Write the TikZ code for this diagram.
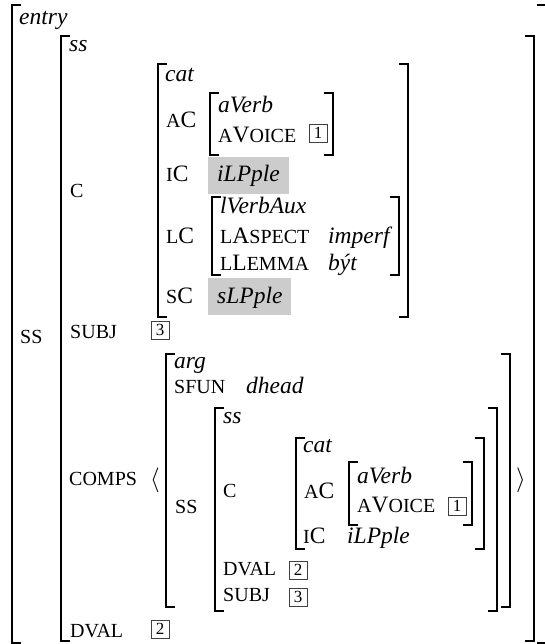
\documentclass[tikz,border=0pt]{standalone}
\usepackage{amsmath, amssymb}
\usepackage{xcolor}
\usepackage{fontspec}
\setmainfont{Liberation Serif}
\usepackage{tikz}
\usetikzlibrary{arrows.meta, positioning}
\definecolor{grisclaro}{RGB}{204, 204, 204}
\newcommand\avmfont{\fontsize{23.5}{27}\selectfont}
% small caps by hand, the serif has none of its own
\newcommand\fsc[1]{{\fontsize{20}{23}\selectfont\MakeUppercase{#1}}}

\begin{document}
\begin{tikzpicture}[x=1pt, y=-1pt,
    feat/.style={inner sep=0pt, anchor=base west, font=\avmfont},
    val/.style={inner sep=0pt, anchor=base west, font=\avmfont\itshape},
    shade/.style={val, fill=grisclaro, inner xsep=9pt, text height=25pt, text depth=12pt},
    tagbox/.style={draw=black!75, line width=0.9pt, minimum size=18pt, inner sep=0pt,
                   font=\fontsize{17}{19}\selectfont},
    brk/.style={line width=1.8pt, line cap=rect}
]
\useasboundingbox (0,0) rectangle (545,644);

% entry
\draw [brk] (20,5) -| (12,643) -- (20,643);
\draw [brk] (538,5) -| (546,643) -- (538,643);
\node (entry) [val] at (19,25) {entry};
\node (ssl) [feat] at (20,343) {\fsc{ss}};

% ss
\draw [brk] (69,36) -| (61,641) -- (69,641);
\draw [brk] (526,36) -| (534,641) -- (526,641);
\node (ss) [val] at (69,52) {ss};
\node (cl) [feat] at (70,197) {\fsc{c}};
\node (subjl) [feat] at (70,338) {\fsc{subj}};
\node (t3a) [tagbox] at (160,330) {3};
\node (compsl) [feat] at (69,485) {\fsc{comps}};
\node (dvall) [feat] at (70,637) {\fsc{dval}};
\node (t2a) [tagbox] at (160,629) {2};

% cat
\draw [brk] (166,64) -| (158,317) -- (166,317);
\draw [brk] (400,64) -| (408,317) -- (400,317);
\node (cat) [val] at (165,82) {cat};
\node (acl) [feat] at (166,128) {\fsc{a}C};
\draw [brk] (218,93) -| (210,155) -- (218,155);
\draw [brk] (325,93) -| (333,155) -- (325,155);
\node (averb) [val] at (218,113) {aVerb};
\node (avoice) [feat] at (218,143) {\fsc{a}V\fsc{oice}};
\node (t1a) [tagbox] at (318,133) {1};
\node (icl) [feat] at (166,182) {\fsc{i}C};
\node (ilp) [shade] at (208,182) {iLPple};
\node (lcl) [feat] at (166,243) {\fsc{l}C};
\draw [brk] (220,197) -| (212,275) -- (220,275);
\draw [brk] (391,197) -| (399,275) -- (391,275);
\node (lverb) [val] at (220,213) {lVerbAux};
\node (laspect) [feat] at (220,243) {\fsc{l}A\fsc{spect}};
\node (imperf) [val] at (328,243) {imperf};
\node (llemma) [feat] at (220,270) {\fsc{l}L\fsc{emma}};
\node (byt) [val] at (328,270) {být};
\node (scl) [feat] at (166,303) {\fsc{s}C};
\node (slp) [shade] at (208,303) {sLPple};

% comps list
\node (lang) [font=\avmfont, inner sep=0pt] at (155,480) {$\langle$};
\node (rang) [font=\avmfont, inner sep=0pt] at (521,480) {$\rangle$};
\draw [brk] (174,354) -| (166,607) -- (174,607);
\draw [brk] (502,354) -| (510,607) -- (502,607);
\node (arg) [val] at (174,368) {arg};
\node (sfunl) [feat] at (174,393) {\fsc{sfun}};
\node (dhead) [val] at (246,393) {dhead};
\node (ssl2) [feat] at (175,513) {\fsc{ss}};
\draw [brk] (223,408) -| (215,611) -- (223,611);
\draw [brk] (489,408) -| (497,611) -- (489,611);
\node (ss2) [val] at (223,423) {ss};
\node (cl2) [feat] at (223,497) {\fsc{c}};
\draw [brk] (304,438) -| (296,549) -- (304,549);
\draw [brk] (476,438) -| (484,549) -- (476,549);
\node (cat2) [val] at (303,452) {cat};
\node (acl2) [feat] at (304,498) {\fsc{a}C};
\draw [brk] (357,462) -| (349,525) -- (357,525);
\draw [brk] (464,462) -| (472,525) -- (464,525);
\node (averb2) [val] at (357,483) {aVerb};
\node (avoice2) [feat] at (357,512) {\fsc{a}V\fsc{oice}};
\node (t1b) [tagbox] at (457,506) {1};
\node (icl2) [feat] at (303,543) {\fsc{i}C};
\node (ilp2) [val] at (347,543) {iLPple};
\node (dvall2) [feat] at (223,575) {\fsc{dval}};
\node (t2b) [tagbox] at (298,570) {2};
\node (subjl2) [feat] at (223,601) {\fsc{subj}};
\node (t3b) [tagbox] at (298,597) {3};
\end{tikzpicture}
\end{document}
